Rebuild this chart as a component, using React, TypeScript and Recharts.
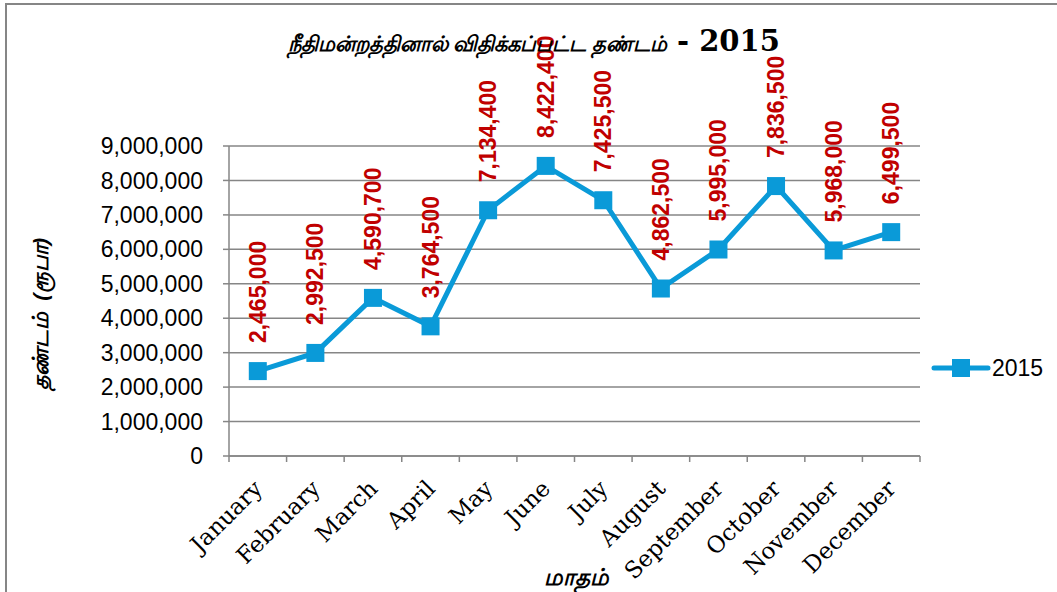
import React from 'react';
import { LineChart, Line, XAxis, YAxis, CartesianGrid } from 'recharts';

// Data
const months = [
  'January', 'February', 'March', 'April', 'May', 'June',
  'July', 'August', 'September', 'October', 'November', 'December',
];
const fines2015 = [
  2465000, 2992500, 4590700, 3764500, 7134400, 8422400,
  7425500, 4862500, 5995000, 7836500, 5968000, 6499500,
];
const yTicks = [0, 1000000, 2000000, 3000000, 4000000, 5000000, 6000000, 7000000, 8000000, 9000000];

const chartData = months.map((m, i) => ({ month: m, value: fines2015[i] }));

const W = 1057;
const H = 592;
const LEFT = 229;
const RIGHT = 137;
const TOP = 146;
const BOTTOM = 136;
const PLOT_W = W - LEFT - RIGHT;
const HALF_BAND = PLOT_W / months.length / 2;

const GRAY = '#868686';
const BLUE = '#0A9AD8';
const RED = '#C00000';

const fmt = (v: number) => v.toLocaleString('en-US');

// Rotated month labels with tick marks at the category boundaries
const MonthTick = (props: any) => {
  const { x, y, payload, index } = props;
  const ax = x + 6;
  const ay = y + 34;
  return (
    <g>
      <line x1={x - HALF_BAND} y1={y} x2={x - HALF_BAND} y2={y + 6} stroke={GRAY} strokeWidth={1.5} />
      {index === months.length - 1 && (
        <line x1={x + HALF_BAND} y1={y} x2={x + HALF_BAND} y2={y + 6} stroke={GRAY} strokeWidth={1.5} />
      )}
      <text
        x={ax}
        y={ay}
        transform={`rotate(-45, ${ax}, ${ay})`}
        textAnchor="end"
        fontFamily="'DejaVu Serif', serif"
        fontSize={23}
        fill="#000"
      >
        {payload.value}
      </text>
    </g>
  );
};

const SquareDot = (props: any) => {
  const { cx, cy, index } = props;
  if (cx == null || cy == null) return <g key={index} />;
  return <rect key={index} x={cx - 9} y={cy - 9} width={18} height={18} fill={BLUE} />;
};

const ValueLabel = (props: any) => {
  const { x, y, value } = props;
  const ly = y - 28;
  return (
    <text
      x={x}
      y={ly}
      transform={`rotate(-90, ${x}, ${ly})`}
      textAnchor="start"
      dominantBaseline="central"
      fontFamily="'Liberation Sans', Arial, sans-serif"
      fontWeight="bold"
      fontSize={23}
      fill={RED}
    >
      {fmt(value)}
    </text>
  );
};

const tamilStyle: React.CSSProperties = {
  fontFamily: "'Noto Sans', sans-serif",
  fontWeight: 'bold',
  fontStyle: 'italic',
  whiteSpace: 'nowrap',
};

export default function App() {
  return (
    <div style={{ position: 'absolute', left: 0, top: 0, width: W, height: H, background: '#fff', overflow: 'hidden' }}>
      <div
        style={{
          position: 'absolute', left: 5, top: 3, width: W, height: H,
          borderLeft: `2px solid ${GRAY}`, borderTop: `2px solid ${GRAY}`,
        }}
      />
      <LineChart
        width={W}
        height={H}
        data={chartData}
        margin={{ top: TOP, right: RIGHT, bottom: 0, left: 0 }}
      >
        <CartesianGrid vertical={false} stroke={GRAY} strokeWidth={1.5} />
        <XAxis
          dataKey="month"
          interval={0}
          padding={{ left: HALF_BAND, right: HALF_BAND }}
          axisLine={{ stroke: GRAY, strokeWidth: 1.5 }}
          tickLine={false}
          tickSize={0}
          tickMargin={0}
          tick={<MonthTick />}
          height={BOTTOM}
        />
        <YAxis
          width={LEFT}
          domain={[0, 9000000]}
          ticks={yTicks}
          interval={0}
          tickFormatter={fmt}
          axisLine={{ stroke: GRAY, strokeWidth: 1.5 }}
          tickLine={{ stroke: GRAY, strokeWidth: 1.5 }}
          tickSize={6}
          tickMargin={20}
          tick={{ fill: '#000', fontSize: 23, fontFamily: "'Liberation Sans', Arial, sans-serif" }}
        />
        <Line
          type="linear"
          dataKey="value"
          name="2015"
          stroke={BLUE}
          strokeWidth={5}
          dot={<SquareDot />}
          activeDot={false}
          label={<ValueLabel />}
          isAnimationActive={false}
        />
      </LineChart>
      {/* legend */}
      <svg style={{ position: 'absolute', left: 930, top: 353 }} width={120} height={30}>
        <line x1={4} y1={15} x2={58} y2={15} stroke={BLUE} strokeWidth={5} strokeLinecap="round" />
        <rect x={22} y={6} width={18} height={18} fill={BLUE} />
        <text
          x={62}
          y={15}
          dominantBaseline="central"
          fontFamily="'Liberation Sans', Arial, sans-serif"
          fontSize={23}
          fill="#000"
        >
          2015
        </text>
      </svg>
      <div style={{ position: 'absolute', left: 288, top: 24, whiteSpace: 'nowrap' }}>
        <span style={{ ...tamilStyle, fontSize: 21 }}>நீதிமன்றத்தினால் விதிக்கப்பட்ட தண்டம்</span>
        <span style={{ fontFamily: "'DejaVu Serif', serif", fontWeight: 'bold', fontSize: 29 }}> -  2015</span>
      </div>
      <div
        style={{
          ...tamilStyle, position: 'absolute', left: 40, top: 314, fontSize: 22,
          transform: 'translate(-50%, -50%) rotate(-90deg)',
        }}
      >
        தண்டம்&nbsp;&nbsp;(ரூபா)
      </div>
      <div
        style={{
          ...tamilStyle, position: 'absolute', left: 576, top: 577, fontSize: 23,
          transform: 'translate(-50%, -50%)',
        }}
      >
        மாதம்
      </div>
    </div>
  );
}
